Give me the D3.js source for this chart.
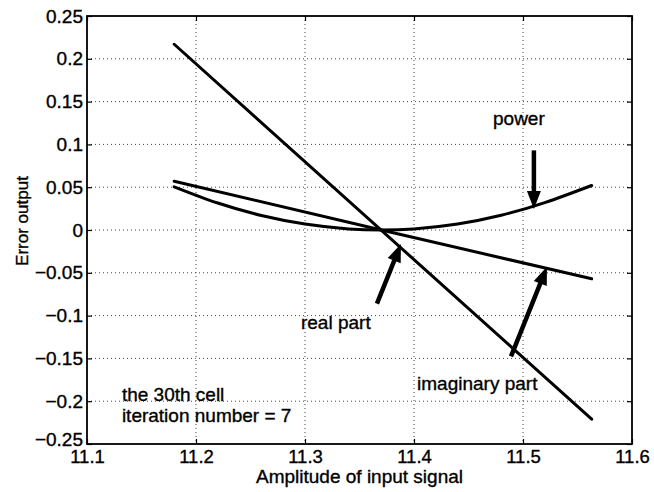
<!DOCTYPE html>
<html>
<head>
<meta charset="utf-8">
<script src="https://cdn.jsdelivr.net/npm/d3@7"></script>
<style>
  body { margin: 0; background: #fff; }
  svg text { font-family: "Liberation Sans", Arial, Helvetica, sans-serif; fill: #000; stroke: #000; stroke-width: 0.35px; }
</style>
</head>
<body>
<div id="chart"></div>
<script>
////////////////////
// DATA

var xTicks = [11.1, 11.2, 11.3, 11.4, 11.5, 11.6];
var yTicks = [0.25, 0.2, 0.15, 0.1, 0.05, 0, -0.05, -0.1, -0.15, -0.2, -0.25];

// power curve
var powerX = [11.18, 11.22, 11.26, 11.30, 11.34, 11.37, 11.40, 11.44, 11.48, 11.52, 11.563];
var powerY = [0.0505, 0.0315, 0.0170, 0.0070, 0.0013, 0.0, 0.0013, 0.0070, 0.0172, 0.0320, 0.052];

// real part
var realX = [11.18, 11.37, 11.563];
var realY = [0.057, 0.0, -0.057];

// imaginary part
var imagX = [11.18, 11.563];
var imagY = [0.217, -0.221];

// labels: text, x, y (data units)
var labelText = ["power", "real part", "imaginary part", "the 30th cell", "iteration number = 7"];
var labelX = [11.4725, 11.2963, 11.4028, 11.132, 11.132];
var labelY = [0.123, -0.1151, -0.1872, -0.2, -0.2244];

// arrows: tail -> tip (data units)
var arrowFromX = [11.51, 11.366, 11.489];
var arrowFromY = [0.093, -0.086, -0.1477];
var arrowToX = [11.51, 11.388, 11.522];
var arrowToY = [0.0244, -0.0163, -0.043];

////////////////////
// SETUP
var W = 654, H = 492;
var margin = {left: 87, right: 22, top: 16, bottom: 48};
var w = W - margin.left - margin.right;
var h = H - margin.top - margin.bottom;

var svg = d3.select("#chart").append("svg")
  .attr("width", W)
  .attr("height", H);

var g = svg.append("g")
  .attr("transform", "translate(" + margin.left + "," + margin.top + ")");

var x = d3.scaleLinear().domain([11.1, 11.6]).range([0, w]);
var y = d3.scaleLinear().domain([-0.25, 0.25]).range([h, 0]);

////////////////////
// GRID (dotted, matlab style)
g.append("g").selectAll("line")
  .data(xTicks.slice(1, -1))
  .enter().append("line")
  .attr("x1", function(d) { return x(d); })
  .attr("x2", function(d) { return x(d); })
  .attr("y1", 0).attr("y2", h)
  .attr("stroke", "#444").attr("stroke-width", 1)
  .attr("stroke-dasharray", "1,3");

g.append("g").selectAll("line")
  .data(yTicks.slice(1, -1))
  .enter().append("line")
  .attr("y1", function(d) { return y(d); })
  .attr("y2", function(d) { return y(d); })
  .attr("x1", 0).attr("x2", w)
  .attr("stroke", "#444").attr("stroke-width", 1)
  .attr("stroke-dasharray", "1,3");

////////////////////
// AXES (ticks inside, on all four sides)
var fontSize = 19;

var xAxis = g.append("g")
  .attr("transform", "translate(0," + h + ")")
  .call(d3.axisBottom(x).tickValues(xTicks).tickSizeInner(-5).tickSizeOuter(0)
    .tickFormat(d3.format("")));
var xAxisTop = g.append("g")
  .call(d3.axisTop(x).tickValues(xTicks).tickSizeInner(-5).tickSizeOuter(0).tickFormat(""));
var yAxis = g.append("g")
  .call(d3.axisLeft(y).tickValues(yTicks).tickSizeInner(-5).tickSizeOuter(0)
    .tickFormat(function(d) { return d3.format("")(d).replace("-", "\u2212"); }));
var yAxisRight = g.append("g")
  .attr("transform", "translate(" + w + ",0)")
  .call(d3.axisRight(y).tickValues(yTicks).tickSizeInner(-5).tickSizeOuter(0).tickFormat(""));

[xAxis, xAxisTop, yAxis, yAxisRight].forEach(function(a) {
  a.select(".domain").remove();
  a.selectAll("line").attr("stroke", "#000").attr("stroke-width", 1.2);
});

xAxis.selectAll("text")
  .attr("y", 19)
  .attr("dy", 0)
  .attr("font-family", null)
  .attr("font-size", null)
  .style("font-size", "18.5px");
yAxis.selectAll("text")
  .attr("x", -4)
  .attr("font-family", null)
  .style("font-size", fontSize + "px");
// bottom y label sits a little higher, as in the reference
yAxis.selectAll(".tick")
  .filter(function(d) { return d === -0.25; })
  .select("text").attr("dy", "0.1em");

// box
g.append("rect")
  .attr("x", 0).attr("y", 0)
  .attr("width", w).attr("height", h)
  .attr("fill", "none")
  .attr("stroke", "#000")
  .attr("stroke-width", 1.8);

////////////////////
// CURVES
var line = d3.line()
  .x(function(d) { return x(d[0]); })
  .y(function(d) { return y(d[1]); });

var curves = [
  {xs: powerX, ys: powerY, curve: d3.curveNatural},
  {xs: realX, ys: realY, curve: d3.curveLinear},
  {xs: imagX, ys: imagY, curve: d3.curveLinear}
];

curves.forEach(function(c) {
  var pts = c.xs.map(function(v, i) { return [v, c.ys[i]]; });
  g.append("path")
    .datum(pts)
    .attr("d", line.curve(c.curve))
    .attr("fill", "none")
    .attr("stroke", "#000")
    .attr("stroke-width", 3)
    .attr("stroke-linecap", "round");
});

////////////////////
// ARROWS
arrowFromX.forEach(function(d, i) {
  var x0 = x(arrowFromX[i]), y0 = y(arrowFromY[i]);
  var x1 = x(arrowToX[i]), y1 = y(arrowToY[i]);
  var dx = x1 - x0, dy = y1 - y0;
  var len = Math.sqrt(dx * dx + dy * dy);
  var ux = dx / len, uy = dy / len;
  var headL = 18, headW = 7;
  var bx = x1 - ux * headL, by = y1 - uy * headL;
  g.append("line")
    .attr("x1", x0).attr("y1", y0)
    .attr("x2", bx + ux * 2).attr("y2", by + uy * 2)
    .attr("stroke", "#000")
    .attr("stroke-width", 4.5);
  g.append("path")
    .attr("d", "M" + x1 + "," + y1 +
      "L" + (bx - uy * headW) + "," + (by + ux * headW) +
      "L" + (bx + uy * headW) + "," + (by - ux * headW) + "Z")
    .attr("fill", "#000");
});

////////////////////
// TEXT LABELS
labelText.forEach(function(t, i) {
  g.append("text")
    .attr("x", x(labelX[i]))
    .attr("y", y(labelY[i]))
    .style("font-size", fontSize + "px")
    .text(t);
});

// axis titles
svg.append("text")
  .attr("x", margin.left + w / 2)
  .attr("y", 483)
  .attr("text-anchor", "middle")
  .style("font-size", "19px")
  .text("Amplitude of input signal");

svg.append("text")
  .attr("transform", "translate(28," + 221 + ")rotate(-90)")
  .attr("text-anchor", "middle")
  .style("font-size", "17px")
  .text("Error output");
</script>
</body>
</html>
